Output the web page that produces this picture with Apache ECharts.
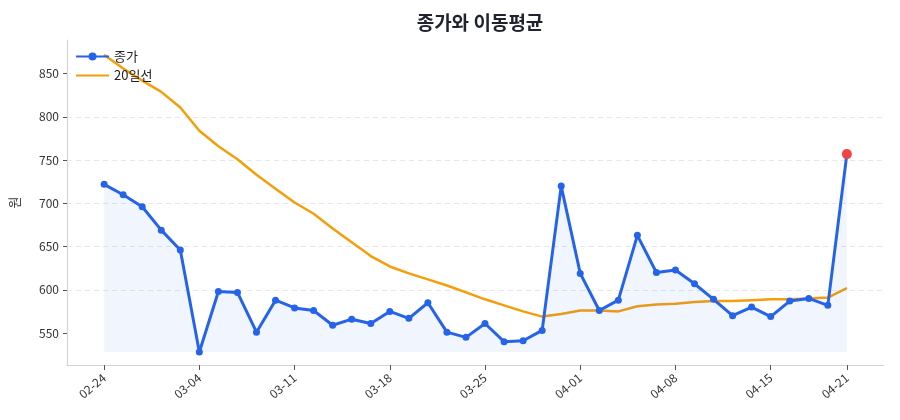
<!DOCTYPE html>
<html>
<head>
<meta charset="utf-8">
<script src="https://cdn.jsdelivr.net/npm/echarts@6/dist/echarts.min.js"></script>
<style>
html,body{margin:0;padding:0;background:#fff;}
#chart{width:900px;height:420px;}
</style>
</head>
<body>
<div id="chart"></div>
<script>
var dates = ['02-24','02-25','02-26','02-27','02-28','03-04','03-05','03-06','03-07','03-10',
	'03-11','03-12','03-13','03-14','03-17','03-18','03-19','03-20','03-21','03-24',
	'03-25','03-26','03-27','03-28','03-31','04-01','04-02','04-03','04-04','04-07',
	'04-08','04-09','04-10','04-11','04-14','04-15','04-16','04-17','04-18','04-21'];
var closePrice = [722,710,696,669,646,528,598,597,551,588,
	579,576,559,566,561,575,567,585,551,545,
	561,540,541,553,720,619,576,588,663,620,
	623,607,589,570,580,569,587,590,582,757];
var ma20 = [872,856,842,829,811,784,766,751,733,717,
	701,688,671,655,639,627,619,612,605,597,
	589,582,575,569,572,576,576,575,581,583,
	584,586,587,587,588,589,589,590,591,602];
var tickIdx = [0,5,10,15,20,25,30,35,39];
var yTicks = [550,600,650,700,750,800,850];

var font = '"Noto Sans CJK KR", "Noto Sans", sans-serif';

//시리즈 데이터 만들기
var lastIdx = closePrice.length - 1;
var closeData = [], maData = [];
for(var i=0;i<closePrice.length;i++){
	if(i == lastIdx){
		closeData.push({value:[i,closePrice[i]], symbolSize:10, itemStyle:{color:'#ef4444'}});
	}else{
		closeData.push([i,closePrice[i]]);
	}
	maData.push([i,ma20[i]]);
}
var baseVal = Math.min.apply(null, closePrice);

var myChart = echarts.init(document.getElementById('chart'));
var option = {
	animation: false,
	textStyle: {fontFamily: font},
	title: {
		text: '종가와 이동평균',
		left: 475,
		textAlign: 'center',
		top: 8,
		textStyle: {fontFamily: font, fontSize: 19, fontWeight: 'bold', color: '#1f2330'}
	},
	legend: {
		left: 70,
		top: 45,
		orient: 'vertical',
		itemWidth: 33,
		itemHeight: 10,
		itemGap: 6,
		textStyle: {fontFamily: font, fontSize: 13, color: '#222'},
		data: ['종가', {name: '20일선', itemStyle: {opacity: 0}}]
	},
	grid: {left: 66, right: 16, top: 40, bottom: 55},
	xAxis: {
		type: 'value',
		min: -1.95,
		max: 40.95,
		axisLine: {onZero: false, lineStyle: {color: '#d1d5db', width: 1.2}},
		axisTick: {show: true, customValues: tickIdx, length: 5, lineStyle: {color: '#555'}},
		axisLabel: {
			customValues: tickIdx,
			rotate: 40,
			fontSize: 12,
			color: '#333',
			margin: 11,
			formatter: function(v){ return dates[Math.round(v)]; }
		},
		splitLine: {show: false}
	},
	yAxis: {
		type: 'value',
		min: 513,
		max: 889,
		name: '원',
		nameLocation: 'middle',
		nameGap: 46,
		nameTextStyle: {fontFamily: font, fontSize: 13, color: '#333'},
		axisLine: {show: true, onZero: false, lineStyle: {color: '#d1d5db', width: 1.2}},
		axisTick: {show: true, customValues: yTicks, length: 4, lineStyle: {color: '#555'}},
		axisLabel: {customValues: yTicks, fontSize: 12, color: '#333', margin: 8},
		splitNumber: 8,
		splitLine: {show: true, showMinLine: false, showMaxLine: false, lineStyle: {color: '#e5e7eb', type: [5,4], width: 1}}
	},
	series: [
		{
			name: '종가',
			type: 'line',
			data: closeData,
			symbol: 'circle',
			symbolSize: 7,
			z: 3,
			itemStyle: {color: '#2563eb'},
			lineStyle: {color: '#2563eb', width: 3},
			areaStyle: {color: 'rgba(37,99,235,0.09)', origin: baseVal}
		},
		{
			name: '20일선',
			type: 'line',
			data: maData,
			showSymbol: false,
			symbol: 'none',
			z: 2,
			itemStyle: {color: '#f59e0b'},
			lineStyle: {color: '#f59e0b', width: 2.5}
		}
	]
};
myChart.setOption(option);
</script>
</body>
</html>
